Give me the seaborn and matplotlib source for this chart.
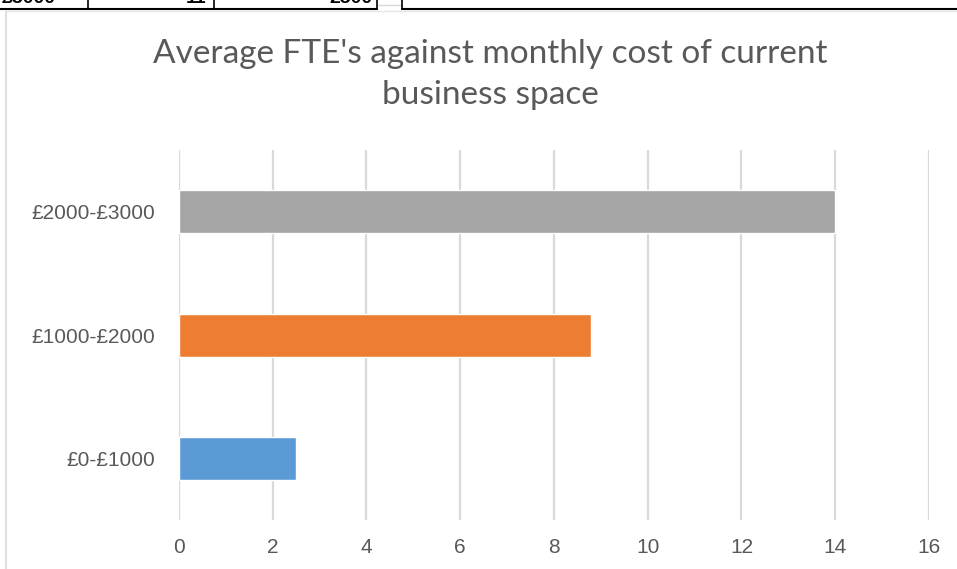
"""
Average FTE's against monthly cost of current business space - horizontal bar chart.
"""
import matplotlib.pyplot as plt
import matplotlib.lines as mlines
import seaborn as sns
import pandas as pd

# data (top to bottom)
cost_bands = ['£2000-£3000', '£1000-£2000', '£0-£1000']
avg_fte = [14.0, 8.8, 2.5]
bar_colors = ['#A5A5A5', '#ED7D31', '#5B9BD5']
x_ticks = [0, 2, 4, 6, 8, 10, 12, 14, 16]

sns.set_theme(style="white")
plt.rcParams['font.family'] = ['Liberation Sans', 'DejaVu Sans']

df = pd.DataFrame({'band': cost_bands, 'fte': avg_fte})

fig = plt.figure(figsize=(9.57, 5.69), dpi=100)
ax = fig.add_axes([0.187, 0.086, 0.7837, 0.650])

sns.barplot(data=df, y='band', x='fte', hue='band', order=cost_bands,
            palette=dict(zip(cost_bands, bar_colors)), legend=False,
            width=0.35, orient='h', saturation=1, ax=ax)

ax.set_xlim(0, 16)
ax.set_xticks(x_ticks)
ax.set_xlabel('')
ax.set_ylabel('')
ax.grid(axis='x', color='#D9D9D9', linewidth=1.6)
ax.set_axisbelow(True)
for s in ax.spines.values():
    s.set_visible(False)
ax.tick_params(axis='y', length=0, pad=17, labelsize=15, labelcolor='#595959')
ax.tick_params(axis='x', length=0, pad=13, labelsize=15, labelcolor='#595959')

fig.text(0.512, 0.869, "Average FTE's against monthly cost of current\nbusiness space",
         ha='center', va='center', fontsize=24, color='#595959',
         linespacing=1.45, family=['Lato', 'DejaVu Sans'])

# bits of the spreadsheet around the chart
fig.add_artist(mlines.Line2D([0, 377/957], [1 - 9/569] * 2, color='black', lw=1.5))
fig.add_artist(mlines.Line2D([402/957, 1], [1 - 9/569] * 2, color='black', lw=1.5))
fig.add_artist(mlines.Line2D([377/957, 402/957], [1 - 5/569] * 2, color='#D9D9D9', lw=1.0))
for xv in [88, 214, 377, 402]:
    fig.add_artist(mlines.Line2D([xv/957] * 2, [1 - 9/569, 1], color='black', lw=1.2))
fig.add_artist(mlines.Line2D([6/957] * 2, [0, 1 - 11/569], color='#D9D9D9', lw=1.2))
fig.add_artist(mlines.Line2D([6/957, 1], [1 - 11/569] * 2, color='#E6E6E6', lw=1.0))
for txt, xv, ha in [('£5000', 2, 'left'), ('11', 206, 'right'), ('2500', 372, 'right')]:
    fig.text(xv/957, 1 - 3/569, txt, ha=ha, va='baseline', fontsize=14,
             fontweight='bold', color='black')

fig.savefig('out.png', dpi=100)
